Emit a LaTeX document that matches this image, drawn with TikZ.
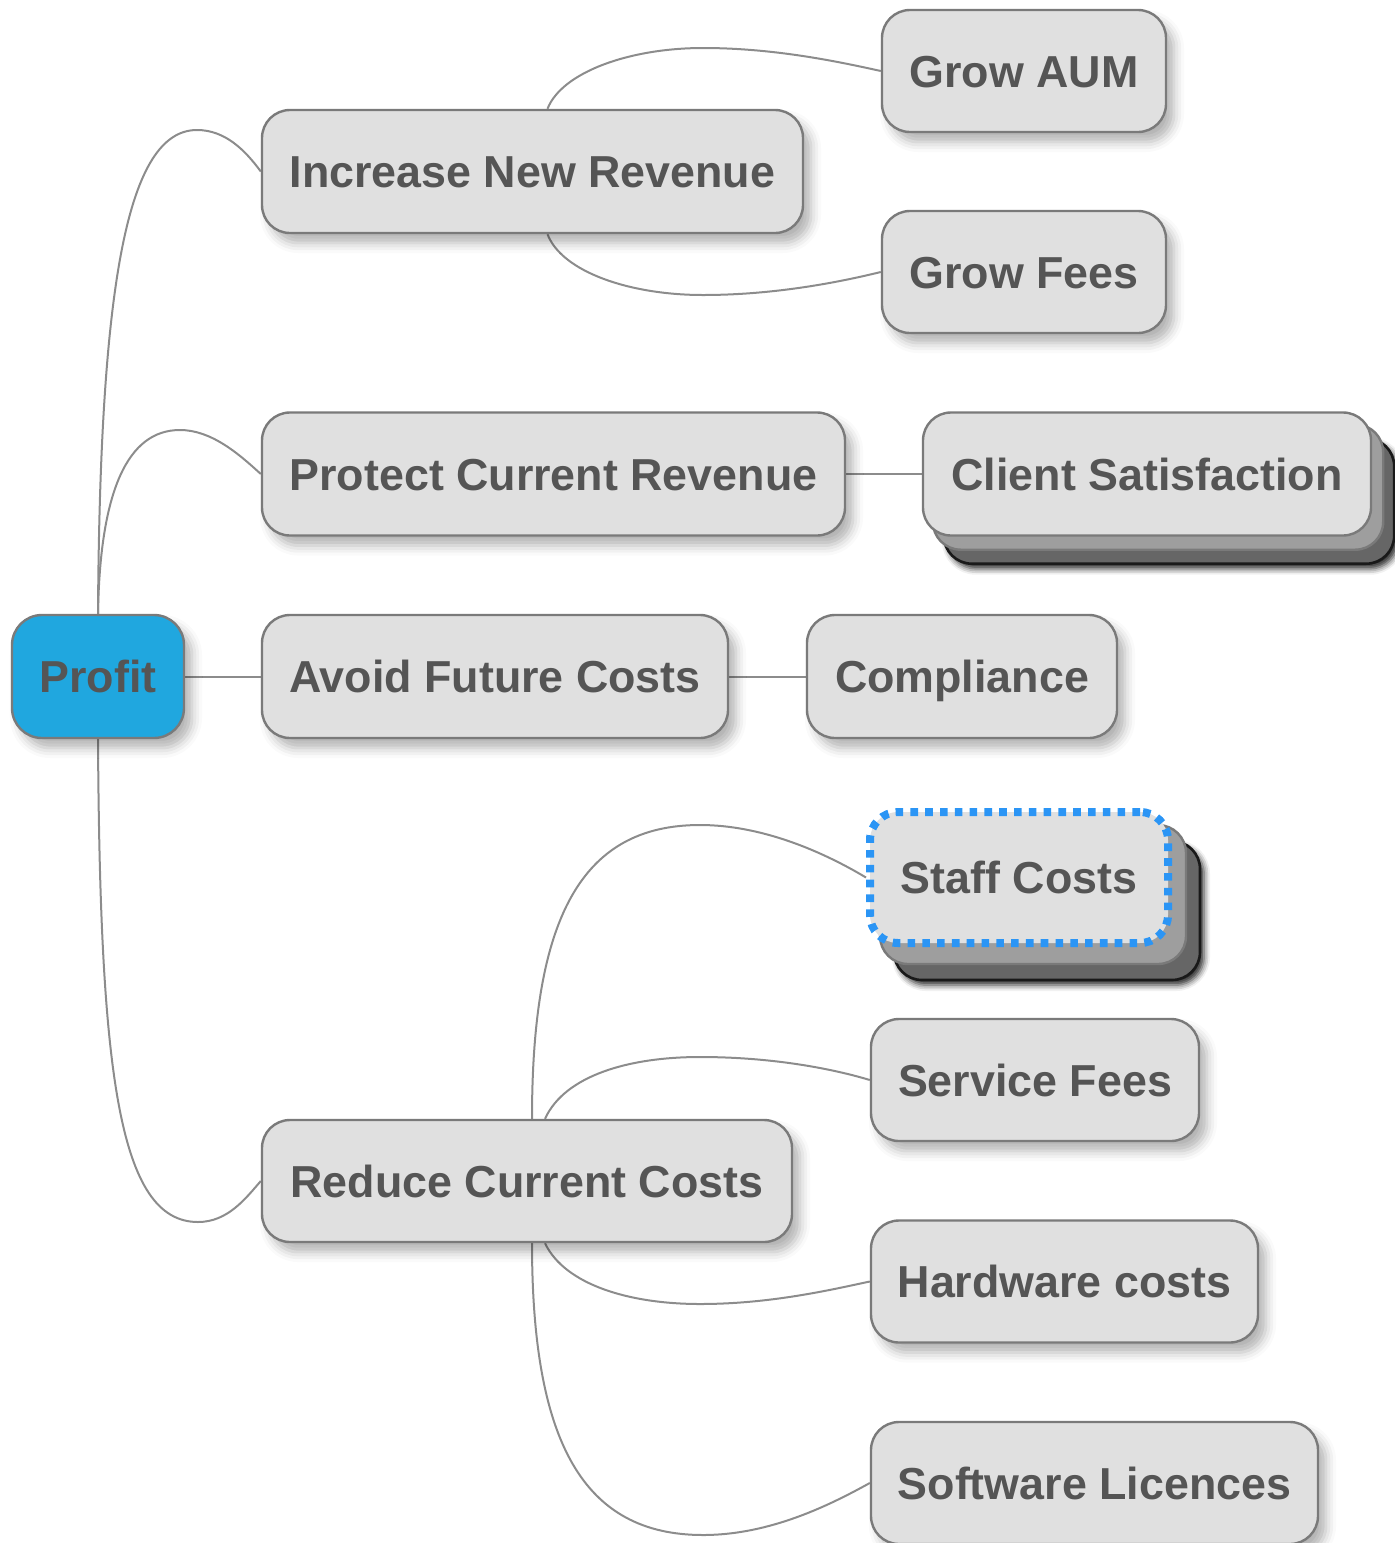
\documentclass[tikz,border=0pt]{standalone}
\usepackage{fontspec}
\setmainfont{Liberation Sans}
\usetikzlibrary{shadows.blur}
\definecolor{boxfill}{HTML}{E0E0E0}
\definecolor{boxline}{HTML}{7A7A7A}
\definecolor{txt}{HTML}{555555}
\definecolor{profitblue}{HTML}{20A7DF}
\definecolor{wire}{HTML}{8C8C8C}
\definecolor{selblue}{HTML}{2B95F5}
\definecolor{layerA}{HTML}{9E9E9E}
\definecolor{layerB}{HTML}{666666}
\pgfdeclarelayer{edges}
\pgfdeclarelayer{stack}
\pgfsetlayers{edges,stack,main}
\tikzset{
  topic/.style={draw=boxline, line width=1.2pt, fill=boxfill, rounded corners=14pt,
    inner sep=0pt, text=txt, font=\bfseries\fontsize{22.4pt}{26pt}\selectfont,
    text height=16pt, text depth=0pt, minimum height=61.5pt},
  shadowed/.style={blur shadow={shadow xshift=4pt, shadow yshift=-5pt,
    shadow blur radius=5pt, shadow opacity=30}},
  wirestyle/.style={draw=wire, line width=1pt},
  layerone/.style={fill=layerA, draw=boxline, line width=1.2pt, rounded corners=14pt},
  layertwo/.style={fill=layerB, draw=black!90, line width=1.3pt, rounded corners=14pt,
    blur shadow={shadow xshift=2pt, shadow yshift=-2.5pt, shadow blur radius=3pt, shadow opacity=85}},
  selected/.style={draw=selblue, line width=4pt, dash pattern=on 3.8pt off 3.6pt}
}
\begin{document}
\begin{tikzpicture}[x=0.5pt, y=-0.5pt]
\useasboundingbox (0,0) rectangle (1395,1543);

% nodes
\node[topic, shadowed, fill=profitblue, draw=boxline, rounded corners=15pt, minimum width=86pt] (profit) at (98,676.5) {Profit};
\node[topic, shadowed, minimum width=270.5pt] (inr) at (532.5,171.5) {Increase New Revenue};
\node[topic, shadowed, minimum width=142pt, minimum height=61pt] (aum) at (1024,71) {Grow AUM};
\node[topic, shadowed, minimum width=142pt, minimum height=61pt] (fees) at (1024,272) {Grow Fees};
\node[topic, shadowed, minimum width=291.5pt] (pcr) at (553.5,474) {Protect Current Revenue};
\node[topic, minimum width=224pt] (cs) at (1147,474) {Client Satisfaction};
\node[topic, shadowed, minimum width=233pt] (afc) at (495,676.5) {Avoid Future Costs};
\node[topic, shadowed, minimum width=155pt] (comp) at (962,676.5) {Compliance};
\node[topic, selected, minimum width=149pt, minimum height=65.5pt] (staff) at (1019,877.5) {Staff Costs};
\node[topic, shadowed, minimum width=164pt, minimum height=61pt] (sf) at (1035,1080) {Service Fees};
\node[topic, shadowed, minimum width=265pt, minimum height=61pt] (rcc) at (527,1181) {Reduce Current Costs};
\node[topic, shadowed, minimum width=193.5pt, minimum height=61pt] (hw) at (1064.5,1281.5) {Hardware costs};
\node[topic, shadowed, minimum width=223.5pt, minimum height=61pt] (sw) at (1094.5,1483) {Software Licences};

% stacked layers
\begin{pgfonlayer}{stack}
\draw[layertwo] ([shift={(22,27)}]cs.south west) rectangle ([shift={(22,27)}]cs.north east);
\draw[layerone] ([shift={(11,13)}]cs.south west) rectangle ([shift={(11,13)}]cs.north east);
\draw[layertwo] ([shift={(28,33)}]staff.south west) rectangle ([shift={(28,33)}]staff.north east);
\draw[layerone] ([shift={(14,17)}]staff.south west) rectangle ([shift={(14,17)}]staff.north east);
\end{pgfonlayer}

% connectors
\begin{pgfonlayer}{edges}
\draw[wirestyle] (profit.north) .. controls (100,285) and (127,130) .. (197,130)
   .. controls (225,130) and (245,150) .. (inr.west);
\draw[wirestyle] (profit.north) .. controls (100,490) and (128,430) .. (180,430)
   .. controls (212,430) and (240,455) .. (pcr.west);
\draw[wirestyle] (profit.east) -- (afc.west);
\draw[wirestyle] (profit.south) .. controls (100,1070) and (118,1222) .. (198,1222)
   .. controls (228,1222) and (246,1198) .. (rcc.west);
\draw[wirestyle] ([xshift=7.5pt]inr.north) .. controls (562,72) and (630,48) .. (703,48)
   .. controls (775,48) and (840,62) .. (aum.west);
\draw[wirestyle] ([xshift=7.5pt]inr.south) .. controls (562,272) and (630,295) .. (703,295)
   .. controls (775,295) and (840,282) .. (fees.west);
\draw[wirestyle] (pcr.east) -- (cs.west);
\draw[wirestyle] (afc.east) -- (comp.west);
\draw[wirestyle] ([xshift=2.5pt]rcc.north) .. controls (532,920) and (580,825) .. (700,825)
   .. controls (760,825) and (820,850) .. (staff.west);
\draw[wirestyle] ([xshift=9pt]rcc.north) .. controls (565,1075) and (630,1057) .. (700,1057)
   .. controls (770,1057) and (830,1068) .. (sf.west);
\draw[wirestyle] ([xshift=9pt]rcc.south) .. controls (565,1285) and (630,1304) .. (700,1304)
   .. controls (770,1304) and (830,1290) .. (hw.west);
\draw[wirestyle] ([xshift=2.5pt]rcc.south) .. controls (532,1442) and (583,1535) .. (703,1535)
   .. controls (770,1535) and (830,1505) .. (sw.west);
\end{pgfonlayer}
\end{tikzpicture}
\end{document}
